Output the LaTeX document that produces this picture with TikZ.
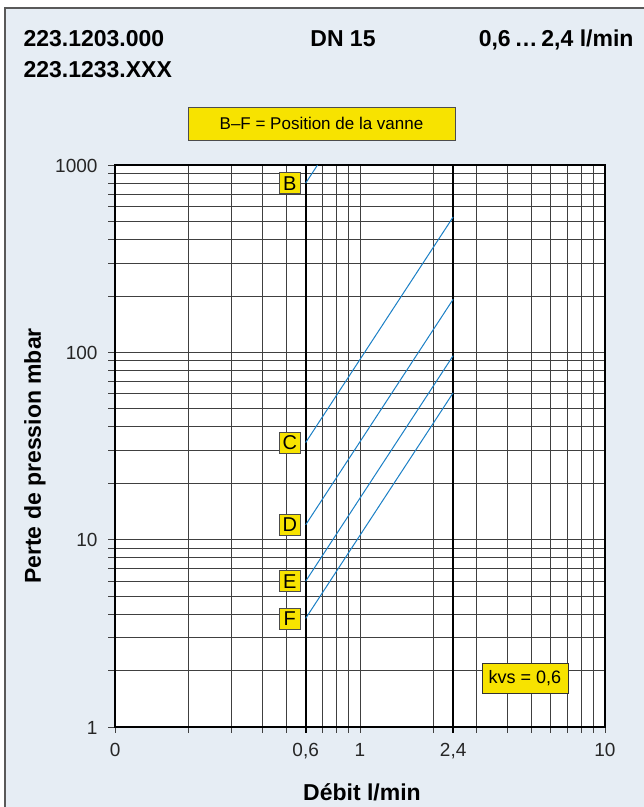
\documentclass[tikz,border=0pt]{standalone}
\usepackage{fontspec}
\setmainfont{Liberation Sans}
\usetikzlibrary{positioning}

\definecolor{panel}{HTML}{E6EDF4}
\definecolor{vanne}{HTML}{F7E300}
\definecolor{bleu}{HTML}{1B80C6}

\begin{document}
\begin{tikzpicture}[x=1pt, y=-1pt,
    declare function={qx(\q)=115+245*(log10(\q)+1); py(\p)=727-187.33*log10(\p);},
    gridline/.style={black!75, line width=0.9pt},
    posbox/.style={draw=black!70, fill=vanne, line width=0.8pt, inner sep=0pt,
      minimum size=21pt, font=\fontsize{20}{20}\selectfont},
    curve/.style={bleu, line width=1pt},
    ticklab/.style={font=\fontsize{19}{19}\selectfont, text=black!85},
    titre/.style={font=\fontsize{23}{23}\selectfont\bfseries, anchor=base west}]

  \useasboundingbox (0,0) rectangle (644,807);
  \fill[panel] (5,8) rectangle (644,807);
  \draw[black!65, line width=1.5pt] (644,8) -- (5,8) -- (5,807);

  % en-tete
  \node[titre] (ref1) at (20,46) {223.1203.000};
  \node[titre] (ref2) at (20,77) {223.1233.XXX};
  \node[titre, anchor=base] (dn) at (343,46) {DN 15};
  \node[titre, anchor=base east] (plage) at (637,46) {0,6\,…\,2,4 l/min};
  \node[draw=black!70, fill=vanne, line width=0.8pt, minimum width=267pt, minimum height=33pt,
    font=\fontsize{17}{17}\selectfont] (legende) at (321.5,123.5) {B–F = Position de la vanne};

  % grille log-log
  \fill[white] (115,165) rectangle (605,727);
  \foreach \d in {1,10,100}
    \foreach \m in {1,...,9}
      \draw[gridline] (108,{py(\m*\d)}) -- (605,{py(\m*\d)});
  \draw[gridline] (108,165) -- (115,165);
  \foreach \d in {0.1,1}
    \foreach \m in {1,...,9}
      \draw[gridline] ({qx(\m*\d)},165) -- ({qx(\m*\d)},733);
  \draw[gridline] (605,727) -- (605,733);
  \draw[line width=2pt] ({qx(0.6)},165) -- ({qx(0.6)},733);
  \draw[line width=2pt] ({qx(2.4)},165) -- ({qx(2.4)},733);
  \draw[line width=2pt] (115,165) rectangle (605,727);

  % graduations
  \foreach \p in {1,10,100,1000}
    \node[ticklab, anchor=base east] (y\p) at (101,{py(\p)+7}) {\p};
  \foreach \q/\t [count=\i] in {0.1/0, 0.6/{0,6}, 1/1, 2.4/{2,4}, 10/10}
    \node[ticklab, anchor=base] (x\i) at ({qx(\q)},756) {\t};

  % courbes des positions
  \coordinate (b0) at ({qx(0.6)},{py(800)});
  \coordinate (b1) at ({qx(0.6708)},{py(1000)});
  \node[posbox, left=5pt of b0] (B) {B};
  \draw[curve] (b0) -- (b1);
  \foreach \n/\a/\b in {C/33/528, D/12/192, E/6/96, F/3.8/60.8} {
    \coordinate (\n0) at ({qx(0.6)},{py(\a)});
    \coordinate (\n1) at ({qx(2.4)},{py(\b)});
    \node[posbox, left=5pt of \n0] (\n) {\n};
    \draw[curve] (\n0) -- (\n1);
  }

  \node[draw=black!80, fill=vanne, line width=0.8pt, minimum width=86pt, minimum height=30pt,
    inner sep=2pt, font=\fontsize{18}{18}\selectfont] (kvs) at (525,678) {kvs = 0,6};

  % titres des axes
  \node[font=\fontsize{23}{23}\selectfont\bfseries, anchor=base] (xlab) at (362,800) {Débit l/min};
  \node[font=\fontsize{23}{23}\selectfont\bfseries, anchor=base, rotate=90] (ylab) at (41,456) {Perte de pression mbar};
\end{tikzpicture}
\end{document}
